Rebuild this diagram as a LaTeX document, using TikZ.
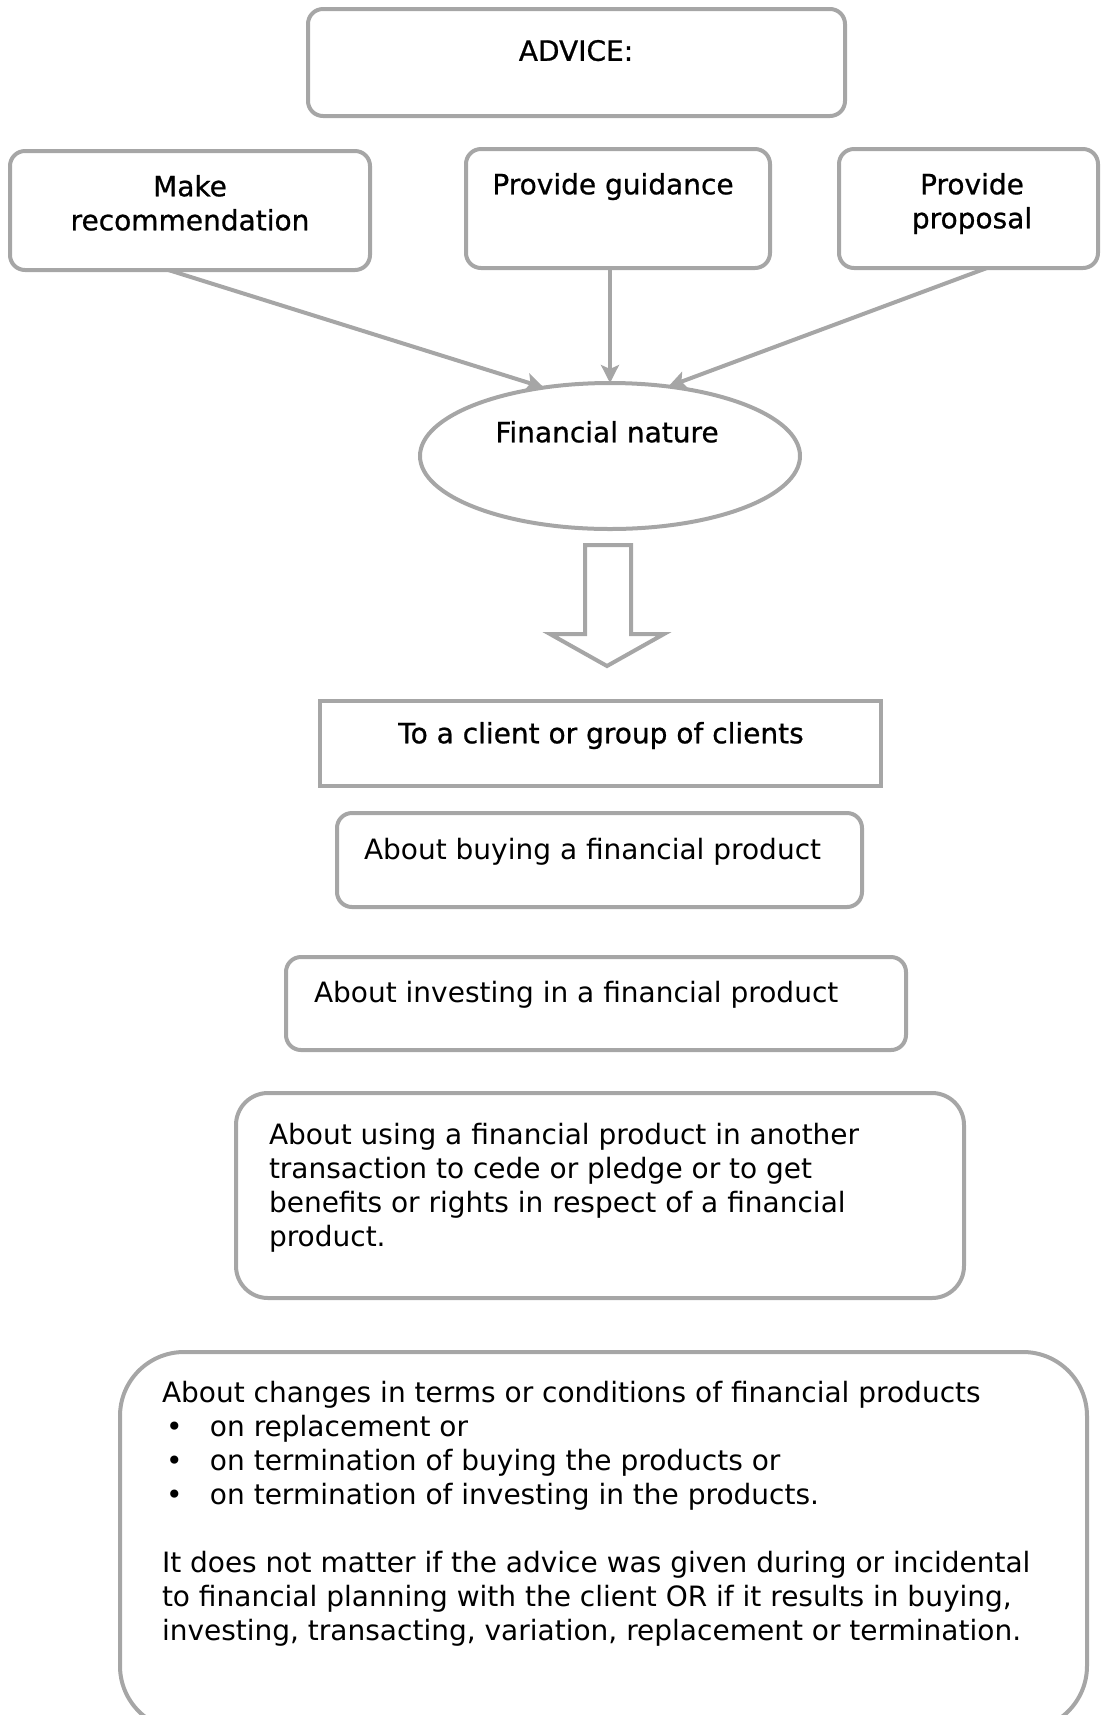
\documentclass[tikz,border=0pt]{standalone}
\usepackage{fontspec}
\setmainfont{DejaVu Sans}
\newfontfamily\heavyfont{DejaVu Sans}[FakeBold=0.8]
\usetikzlibrary{shapes.geometric,arrows.meta,fit,calc}
\definecolor{linegray}{HTML}{A6A6A6}
\begin{document}
\begin{tikzpicture}[x=0.5pt,y=-0.5pt,
  every node/.style={inner sep=0pt,outer sep=0pt},
  txt/.style={font=\fontsize{14}{17}\selectfont,text=black},
  htxt/.style={font=\fontsize{14}{17}\selectfont\heavyfont,text=black},
  box/.style={draw=linegray,line width=2pt,rounded corners=7.5pt,fit={#1}},
  sharpbox/.style={draw=linegray,line width=2pt,fit={#1}},
  arr/.style={draw=linegray,line width=2pt,-{Stealth[length=9pt,width=9pt,inset=2pt]}}
]
\useasboundingbox (0,0) rectangle (1100,1715);

% top boxes
\node[box={(308,9) (845,116)}] (advice) {};
\node[htxt,anchor=north] (advicet) at (576,40) {ADVICE:};

\node[box={(10,151) (370,270)}] (rec) {};
\node[htxt,anchor=north,align=center] (rect) at (190,175) {Make\\recommendation};

\node[box={(466,149) (770,268)}] (guide) {};
\node[htxt,anchor=north] (guidet) at (613,173) {Provide guidance};

\node[box={(839,149) (1098,268)}] (prop) {};
\node[htxt,anchor=north,align=center] (propt) at (972,173) {Provide\\proposal};

% ellipse
\node[ellipse,draw=linegray,line width=2pt,minimum width=190pt,minimum height=73pt] (fin) at (610,456) {};
\node[htxt,anchor=north] (fint) at (607,421) {Financial nature};

% arrows
\draw[arr] ($(rec.south west)!0.44!(rec.south east)$) -- (fin.134.5);
\draw[arr] (fin.north |- guide.south) -- (fin.north);
\draw[arr] ($(prop.south west)!0.571!(prop.south east)$) -- (fin.50.7);

% hollow block arrow
\draw[linegray,line width=2pt,line join=miter]
  (585,545) -- (631,545) -- (631,634) -- (664,634) -- (607,666) -- (550,634) -- (585,634) -- cycle;

% lower boxes
\node[sharpbox={(320,701) (881,786)}] (client) {};
\node[htxt,anchor=north] (clientt) at (601,722) {To a client or group of clients};

\node[box={(337,813) (862,907)}] (buy) {};
\node[txt,anchor=north west] (buyt) at (364,838) {About buying a financial product};

\node[box={(286,957) (906,1050)}] (invest) {};
\node[txt,anchor=north west] (investt) at (314,981) {About investing in a financial product};

\node[draw=linegray,line width=2pt,rounded corners=16pt,fit={(236,1093) (964,1298)}] (use) {};
\node[txt,anchor=north west,align=left] (uset) at (269,1123) {About using a financial product in another\\transaction to cede or pledge or to get\\benefits or rights in respect of a financial\\product.};

\node[draw=linegray,line width=2pt,rounded corners=32pt,fit={(120,1352) (1087,1730)}] (changes) {};
\node[txt,anchor=north west,align=left] (changest) at (162,1381) {About changes in terms or conditions of financial products\\
\hspace*{2pt}\makebox[22pt][l]{•}on replacement or\\
\hspace*{2pt}\makebox[22pt][l]{•}on termination of buying the products or\\
\hspace*{2pt}\makebox[22pt][l]{•}on termination of investing in the products.\\[17pt]
It does not matter if the advice was given during or incidental\\
to financial planning with the client OR if it results in buying,\\
investing, transacting, variation, replacement or termination.};
\end{tikzpicture}
\end{document}
